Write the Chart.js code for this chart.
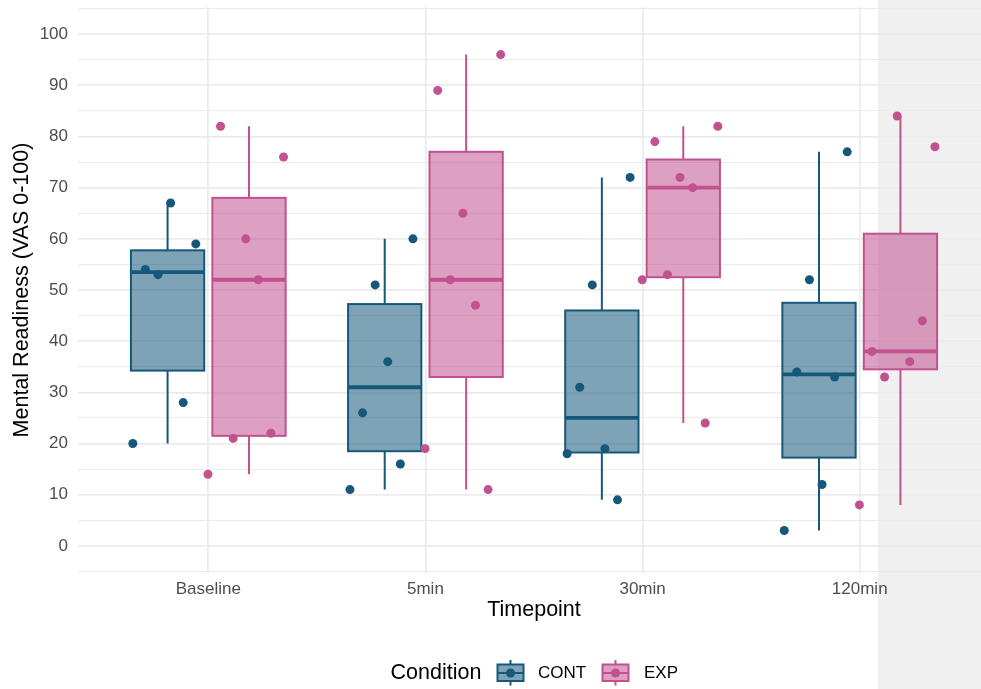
<!DOCTYPE html>
<html><head><meta charset="utf-8">
<script src="https://cdn.jsdelivr.net/npm/chart.js@4.4.1/dist/chart.umd.min.js"></script>
<style>html,body{margin:0;padding:0;overflow:hidden;background:#fff;width:981px;height:689px}canvas{display:block}</style>
</head><body><canvas id="c" width="1000" height="689"></canvas>
<script>
// ---- data ----
const categories = ['Baseline', '5min', '30min', '120min'];
const conditions = ['CONT', 'EXP'];
// scores per timepoint, listed by subject (subject order gives the dodge slot)
const contScores = [
  [20, 54, 53, 67, 28, 59],
  [11, 26, 51, 36, 16, 60],
  [18, 31, 51, 19, 9, 72],
  [3, 34, 52, 12, 33, 77]
];
const expScores = [
  [14, 82, 21, 60, 52, 22, 76],
  [19, 89, 52, 65, 47, 11, 96],
  [52, 79, 53, 72, 70, 24, 82],
  [8, 38, 33, 84, 36, 44, 78]
];
const yTickLabels = [0, 10, 20, 30, 40, 50, 60, 70, 80, 90, 100];
const xTitle = 'Timepoint';
const yTitle = 'Mental Readiness (VAS 0-100)';
const legendTitle = 'Condition';

// ---- styling ----
const FONT = '"Liberation Sans", Arial, sans-serif';
const COLORS = { CONT: '#16587a', EXP: '#c2528f' };
const FILLS = { CONT: 'rgba(22,88,122,0.55)', EXP: 'rgba(194,82,143,0.55)' };
const DODGE = 0.1875, BOXW = 0.3375, STEP = 0.058, SHIFT = -0.015;

function quantile(s, p) {
  const h = (s.length - 1) * p, lo = Math.floor(h);
  const hi = Math.min(lo + 1, s.length - 1);
  return s[lo] + (h - lo) * (s[hi] - s[lo]);
}
function boxStats(vals) {
  const s = [...vals].sort((a, b) => a - b);
  const q1 = quantile(s, 0.25), med = quantile(s, 0.5), q3 = quantile(s, 0.75);
  const iqr = q3 - q1;
  const lo = Math.min(...s.filter(v => v >= q1 - 1.5 * iqr));
  const hi = Math.max(...s.filter(v => v <= q3 + 1.5 * iqr));
  return { q1, med, q3, lo, hi };
}
const groups = [
  { name: conditions[0], scores: contScores, off: -DODGE },
  { name: conditions[1], scores: expScores, off: DODGE }
];
function pointsOf(g) {
  const pts = [];
  g.scores.forEach((arr, ci) => {
    const n = arr.length;
    arr.forEach((v, i) => pts.push({ x: ci + 1 + g.off + (i - (n - 1) / 2) * STEP + SHIFT, y: v }));
  });
  return pts;
}

const bgPanel = {
  id: 'bgPanel',
  beforeDraw(chart) {
    const ctx = chart.ctx;
    ctx.save();
    ctx.fillStyle = '#f0f0f0';
    ctx.fillRect(878, 0, chart.width - 878, chart.height);
    ctx.restore();
  }
};

const boxPlugin = {
  id: 'boxPlugin',
  beforeDatasetsDraw(chart) {
    const ctx = chart.ctx, xs = chart.scales.x, ys = chart.scales.y;
    ctx.save();
    groups.forEach(g => {
      g.scores.forEach((arr, ci) => {
        const st = boxStats(arr);
        const cx = xs.getPixelForValue(ci + 1 + g.off);
        const x0 = xs.getPixelForValue(ci + 1 + g.off - BOXW / 2);
        const x1 = xs.getPixelForValue(ci + 1 + g.off + BOXW / 2);
        const yq1 = ys.getPixelForValue(st.q1), yq3 = ys.getPixelForValue(st.q3);
        const ym = ys.getPixelForValue(st.med);
        ctx.strokeStyle = COLORS[g.name];
        ctx.lineWidth = 2;
        ctx.beginPath();
        ctx.moveTo(cx, yq3); ctx.lineTo(cx, ys.getPixelForValue(st.hi));
        ctx.moveTo(cx, yq1); ctx.lineTo(cx, ys.getPixelForValue(st.lo));
        ctx.stroke();
        ctx.fillStyle = FILLS[g.name];
        ctx.fillRect(x0, yq3, x1 - x0, yq1 - yq3);
        ctx.strokeRect(x0, yq3, x1 - x0, yq1 - yq3);
        ctx.lineWidth = 3.8;
        ctx.beginPath();
        ctx.moveTo(x0, ym); ctx.lineTo(x1, ym);
        ctx.stroke();
      });
    });
    ctx.restore();
  }
};

const legendPlugin = {
  id: 'legendPlugin',
  afterDraw(chart) {
    const ctx = chart.ctx;
    const yc = 673;
    ctx.save();
    ctx.textBaseline = 'middle';
    ctx.textAlign = 'left';
    ctx.fillStyle = '#000';
    ctx.font = '21.5px ' + FONT;
    ctx.fillText(legendTitle, 390.5, yc);
    const items = [{ name: conditions[0], x: 497.5, tx: 538 }, { name: conditions[1], x: 602.5, tx: 644 }];
    items.forEach(it => {
      const w = 26, cx = it.x + w / 2;
      ctx.strokeStyle = COLORS[it.name];
      ctx.lineWidth = 2;
      ctx.beginPath();
      ctx.moveTo(cx, 660); ctx.lineTo(cx, 664.5);
      ctx.moveTo(cx, 681); ctx.lineTo(cx, 685.5);
      ctx.stroke();
      ctx.fillStyle = FILLS[it.name];
      ctx.fillRect(it.x, 664.5, w, 16.5);
      ctx.strokeRect(it.x, 664.5, w, 16.5);
      ctx.beginPath();
      ctx.moveTo(it.x, yc); ctx.lineTo(it.x + w, yc);
      ctx.stroke();
      ctx.fillStyle = COLORS[it.name];
      ctx.beginPath();
      ctx.arc(cx, yc, 4.5, 0, Math.PI * 2);
      ctx.fill();
      ctx.fillStyle = '#000';
      ctx.font = '17px ' + FONT;
      ctx.fillText(it.name, it.tx, yc);
    });
    ctx.restore();
  }
};

new Chart(document.getElementById('c'), {
  type: 'scatter',
  data: {
    datasets: groups.map(g => ({
      label: g.name,
      data: pointsOf(g),
      backgroundColor: COLORS[g.name],
      borderWidth: 0,
      pointRadius: 4.5,
      pointHoverRadius: 4.5
    }))
  },
  options: {
    responsive: false,
    animation: false,
    events: [],
    layout: { padding: { top: 7, left: 0, right: 10, bottom: 66 } },
    plugins: { legend: { display: false }, tooltip: { enabled: false } },
    scales: {
      x: {
        type: 'linear', min: 0.4, max: 4.6,
        afterBuildTicks: s => { s.ticks = categories.map((c, i) => ({ value: i + 1 })); },
        afterFit: s => { s.height = 50; s.paddingLeft = 0; s.paddingRight = 0; },
        grid: { color: '#ebebeb', lineWidth: 1.7, drawTicks: false },
        border: { display: false },
        ticks: {
          autoSkip: false, maxRotation: 0, padding: 6, color: '#4d4d4d',
          font: { family: FONT, size: 17 },
          callback: v => categories[Math.round(v) - 1] ?? ''
        },
        title: {
          display: true, text: xTitle, color: '#000',
          font: { family: FONT, size: 21.5 }, padding: { top: 0, bottom: 0 }
        }
      },
      y: {
        type: 'linear', min: -5.3, max: 105.3,
        afterBuildTicks: s => {
          const t = [];
          for (let v = -5; v <= 105; v += 5) t.push({ value: v });
          s.ticks = t;
        },
        afterFit: s => { s.width = 78; s.paddingTop = 0; s.paddingBottom = 0; },
        grid: {
          color: '#ebebeb', drawTicks: false,
          lineWidth: c => (c.tick && c.tick.value % 10 === 0) ? 1.7 : 1.0
        },
        border: { display: false },
        ticks: {
          autoSkip: false, padding: 10, color: '#4d4d4d',
          font: { family: FONT, size: 17 },
          callback: v => yTickLabels.includes(v) ? String(v) : ''
        },
        title: {
          display: true, text: yTitle, color: '#000',
          font: { family: FONT, size: 21.5 }, padding: { top: 9, bottom: 0 }
        }
      }
    }
  },
  plugins: [bgPanel, boxPlugin, legendPlugin]
});
</script>
</body></html>
